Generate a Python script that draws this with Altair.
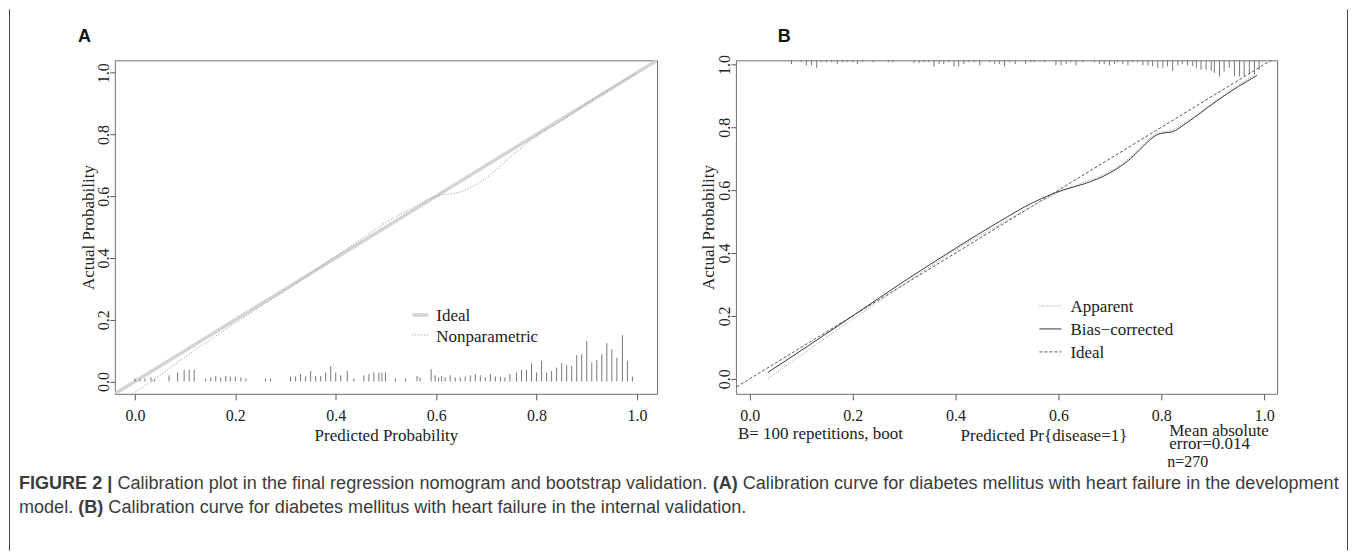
import altair as alt
import pandas as pd

SERIF = "Liberation Serif"
SANS = "Liberation Sans"

TICKS = [0.0, 0.2, 0.4, 0.6, 0.8, 1.0]
IDEAL = [-0.1, 1.1]

# ---------------- Panel A data ----------------
A_NP_X = [0.0, 0.05, 0.1, 0.15, 0.2, 0.3, 0.4, 0.45, 0.5, 0.55, 0.6, 0.65, 0.7, 0.75, 0.8, 0.85, 0.9, 0.95, 1.0]
A_NP_Y = [-0.035, 0.02, 0.08, 0.135, 0.19, 0.295, 0.405, 0.46, 0.515, 0.56, 0.6, 0.615, 0.66, 0.73, 0.795, 0.845, 0.9, 0.95, 1.0]

A_RUG_X = [0.0, 0.01, 0.02, 0.032, 0.039, 0.068, 0.085, 0.098, 0.108, 0.118,
           0.141, 0.151, 0.161, 0.171, 0.181, 0.19, 0.2, 0.211, 0.221, 0.26, 0.27,
           0.31, 0.32, 0.33, 0.34, 0.35, 0.36, 0.37, 0.38, 0.39, 0.4, 0.41, 0.423, 0.436,
           0.456, 0.466, 0.476, 0.486, 0.492, 0.499, 0.519, 0.539, 0.562, 0.568,
           0.59, 0.598, 0.605, 0.611, 0.618, 0.628, 0.638, 0.648, 0.658, 0.668, 0.678,
           0.688, 0.698, 0.708, 0.718, 0.728, 0.737, 0.747, 0.76, 0.77, 0.78, 0.79,
           0.8, 0.81, 0.82, 0.83, 0.84, 0.85, 0.86, 0.87, 0.88, 0.89, 0.9, 0.91, 0.92,
           0.93, 0.94, 0.95, 0.96, 0.971, 0.981, 0.991]
A_RUG_H = [0.01, 0.0075, 0.01, 0.013, 0.0075, 0.02, 0.029, 0.038, 0.038, 0.038,
           0.01, 0.013, 0.018, 0.013, 0.018, 0.016, 0.016, 0.013, 0.01, 0.01, 0.01,
           0.016, 0.016, 0.024, 0.016, 0.034, 0.018, 0.018, 0.029, 0.05, 0.029, 0.02, 0.034, 0.01,
           0.02, 0.024, 0.029, 0.029, 0.029, 0.029, 0.01, 0.01, 0.018, 0.013,
           0.04, 0.02, 0.013, 0.018, 0.013, 0.02, 0.013, 0.013, 0.016, 0.02, 0.024,
           0.02, 0.013, 0.024, 0.016, 0.016, 0.013, 0.024, 0.029, 0.038, 0.038, 0.059,
           0.029, 0.067, 0.029, 0.034, 0.045, 0.059, 0.053, 0.05, 0.085, 0.088, 0.131, 0.061, 0.07,
           0.088, 0.124, 0.104, 0.077, 0.15, 0.067, 0.016]

# ---------------- Panel B data ----------------
B_APP_X = [0.035, 0.1, 0.2, 0.3, 0.4, 0.485, 0.55, 0.608, 0.65, 0.7, 0.74, 0.765, 0.79, 0.82, 0.85, 0.907, 0.95, 0.986]
B_APP_Y = [0.0, 0.075, 0.19, 0.3, 0.41, 0.49, 0.55, 0.598, 0.625, 0.66, 0.705, 0.745, 0.78, 0.79, 0.82, 0.885, 0.935, 0.97]
B_BC_X = [0.035, 0.1, 0.2, 0.3, 0.4, 0.485, 0.55, 0.608, 0.65, 0.7, 0.74, 0.765, 0.79, 0.805, 0.82, 0.85, 0.907, 0.95, 0.986]
B_BC_Y = [0.02, 0.09, 0.2, 0.31, 0.415, 0.5, 0.56, 0.6, 0.62, 0.655, 0.7, 0.74, 0.775, 0.782, 0.785, 0.815, 0.883, 0.93, 0.965]

B_RUG_X = [0.081, 0.1, 0.11, 0.12, 0.13, 0.139, 0.149, 0.159, 0.17, 0.18, 0.189, 0.2, 0.209, 0.219,
           0.24, 0.269, 0.278, 0.319, 0.329, 0.339, 0.348, 0.358, 0.368, 0.377, 0.387, 0.397,
           0.406, 0.416, 0.426, 0.436, 0.447, 0.466, 0.476, 0.485, 0.495, 0.505, 0.516, 0.536,
           0.546, 0.553, 0.573, 0.595, 0.605, 0.615, 0.624, 0.634, 0.647, 0.67, 0.68, 0.689,
           0.699, 0.709, 0.715, 0.725, 0.735, 0.744, 0.754, 0.764, 0.774, 0.783, 0.793, 0.803,
           0.812, 0.822, 0.832, 0.841, 0.851, 0.861, 0.868, 0.877, 0.887, 0.897, 0.903, 0.913,
           0.922, 0.932, 0.942, 0.952, 0.961, 0.971, 0.981, 0.99]
B_RUG_L = [0.012, 0.006, 0.016, 0.016, 0.024, 0.006, 0.006, 0.006, 0.012, 0.006, 0.006, 0.006, 0.012, 0.006,
           0.006, 0.006, 0.006, 0.009, 0.009, 0.006, 0.006, 0.021, 0.012, 0.012, 0.006, 0.019,
           0.019, 0.012, 0.006, 0.006, 0.016, 0.006, 0.012, 0.012, 0.019, 0.006, 0.012, 0.012,
           0.006, 0.006, 0.006, 0.016, 0.016, 0.012, 0.006, 0.016, 0.006, 0.006, 0.012, 0.012,
           0.016, 0.012, 0.006, 0.012, 0.016, 0.006, 0.006, 0.016, 0.016, 0.019, 0.024, 0.024,
           0.019, 0.033, 0.016, 0.012, 0.016, 0.019, 0.024, 0.03, 0.03, 0.033, 0.04, 0.051,
           0.035, 0.024, 0.051, 0.051, 0.051, 0.045, 0.045, 0.03]

# ---------------- Caption ----------------
CAP_LINE1 = [("FIGURE 2 |", True),
             ("Calibration plot in the final regression nomogram and bootstrap validation.", False),
             ("(A)", True),
             ("Calibration curve for diabetes mellitus with heart failure in the development", False)]
CAP_LINE2 = [("model.", False),
             ("(B)", True),
             ("Calibration curve for diabetes mellitus with heart failure in the internal validation.", False)]

W, H = 543, 334
A_XDOM = [-0.04, 1.04]
A_YDOM = [-0.04, 1.04]
B_XDOM = [-0.027, 1.025]
B_YDOM = [-0.048, 1.013]

TXT = "#222222"
AXC = "#555555"
CAPC = "#3c3c3c"

# approximate Arial / Liberation Sans advance widths (per 1000 em) for laying out caption pieces
_REG = {" ": 278, "a": 556, "b": 556, "c": 500, "d": 556, "e": 556, "f": 278, "g": 556, "h": 556,
        "i": 222, "j": 222, "k": 500, "l": 222, "m": 833, "n": 556, "o": 556, "p": 556, "q": 556,
        "r": 333, "s": 500, "t": 278, "u": 556, "v": 500, "w": 722, "x": 500, "y": 500, "z": 500,
        ".": 278, "(": 333, ")": 333, "C": 722, "A": 667, "B": 667, "|": 260}
_BOLD = {" ": 278, "F": 611, "I": 278, "G": 778, "U": 722, "R": 722, "E": 667, "2": 556,
         "|": 280, "(": 333, ")": 333, "A": 722, "B": 722}


def em_width(s, bold):
    t = _BOLD if bold else _REG
    return sum(t.get(c, 556) for c in s) / 1000.0


line1_em = sum(em_width(s, b) for s, b in CAP_LINE1) + 0.278 * (len(CAP_LINE1) - 1)
CAP_SIZE = round(1322 / line1_em, 2)


def xaxis(title, title_x):
    return alt.Axis(values=TICKS, format=".1f", title=title, grid=False, domain=False,
                    tickSize=6, tickColor=AXC, tickWidth=1, labelFont=SERIF, labelFontSize=16,
                    labelColor=TXT, labelPadding=8, labelBaseline="top", labelFlush=False,
                    labelOverlap=False, titleFont=SERIF, titleFontSize=17, titleFontWeight="normal",
                    titleColor=TXT, titleX=title_x, titleY=42, titleBaseline="middle", titleAlign="center")


def yaxis(title_x):
    return alt.Axis(values=TICKS, format=".1f", title="Actual Probability", grid=False, domain=False,
                    tickSize=5, tickColor=AXC, tickWidth=1, labelFont=SERIF, labelFontSize=16,
                    labelColor=TXT, labelAngle=270, labelAlign="center", labelBaseline="alphabetic",
                    labelPadding=1, labelFlush=False, labelOverlap=False, titleFont=SERIF,
                    titleFontSize=17, titleFontWeight="normal", titleColor=TXT, titleAngle=270,
                    titleX=title_x, titleY=H / 2, titleBaseline="middle", titleAlign="center")


def txt(s, x, y, size=17, font=SERIF, weight="normal", align="left", color=TXT, baseline="middle"):
    return alt.Chart(pd.DataFrame({"t": [s]})).mark_text(
        align=align, baseline=baseline, font=font, fontSize=size, fontWeight=weight, color=color
    ).encode(x=alt.value(x), y=alt.value(y), text="t:N")


def seg(x1, x2, y, color, width=1, dash=None):
    kw = dict(color=color, strokeWidth=width)
    if dash:
        kw["strokeDash"] = dash
    return alt.Chart(pd.DataFrame({"a": [0]})).mark_rule(**kw).encode(
        x=alt.value(x1), x2=alt.value(x2), y=alt.value(y))


def vline(x, y1, y2, color="#444444"):
    return alt.Chart(pd.DataFrame({"a": [0]})).mark_rule(color=color, strokeWidth=1).encode(
        x=alt.value(x), y=alt.value(y1), y2=alt.value(y2))


def caption_line(pieces, x0, y):
    layers = []
    x = x0
    for s, b in pieces:
        layers.append(txt(s, round(x, 1), y, size=CAP_SIZE, font=SANS,
                          weight="bold" if b else "normal", color=CAPC))
        x += (em_width(s, b) + 0.278) * CAP_SIZE
    return layers


# ---------------- Panel A ----------------
xsA = alt.Scale(domain=A_XDOM, nice=False, zero=False)
ysA = alt.Scale(domain=A_YDOM, nice=False, zero=False)

ideal_df = pd.DataFrame({"x": IDEAL, "y": IDEAL})
a_ideal = alt.Chart(ideal_df).mark_line(clip=True, color="#d4d4d4", strokeWidth=3.5).encode(
    x=alt.X("x:Q", scale=xsA, axis=xaxis("Predicted Probability", W / 2)),
    y=alt.Y("y:Q", scale=ysA, axis=yaxis(-26)))

a_np = alt.Chart(pd.DataFrame({"x": A_NP_X, "y": A_NP_Y})).mark_line(
    clip=True, color="#8a8a8a", strokeWidth=1, strokeDash=[1, 2], interpolate="monotone").encode(
    x=alt.X("x:Q", scale=xsA), y=alt.Y("y:Q", scale=ysA))

a_rug = alt.Chart(pd.DataFrame({"x": A_RUG_X, "y0": [0.0] * len(A_RUG_X), "h": A_RUG_H})).mark_rule(
    color="#777777", strokeWidth=1).encode(
    x=alt.X("x:Q", scale=xsA), y=alt.Y("y0:Q", scale=ysA), y2="h:Q")

capY1, capY2 = 424, 448
panelA = alt.layer(
    a_ideal, a_np, a_rug,
    seg(298, 314, 255, "#d4d4d4", 3.5), txt("Ideal", 322, 256),
    seg(298, 314, 275, "#8a8a8a", 1, [1, 2]), txt("Nonparametric", 322, 277),
    txt("A", -37, -23, size=18, font=SANS, weight="bold", color="#111111"),
    vline(-105.5, -51, 491),
    *caption_line(CAP_LINE1, -96, capY1),
    *caption_line(CAP_LINE2, -96, capY2),
).properties(width=W, height=H)

# ---------------- Panel B ----------------
xsB = alt.Scale(domain=B_XDOM, nice=False, zero=False)
ysB = alt.Scale(domain=B_YDOM, nice=False, zero=False)

b_ideal = alt.Chart(ideal_df).mark_line(clip=True, color="#555555", strokeWidth=1, strokeDash=[3, 2]).encode(
    x=alt.X("x:Q", scale=xsB, axis=xaxis("Predicted Pr{disease=1}", 308)),
    y=alt.Y("y:Q", scale=ysB, axis=yaxis(-27)))

b_app = alt.Chart(pd.DataFrame({"x": B_APP_X, "y": B_APP_Y})).mark_line(
    clip=True, color="#9a9a9a", strokeWidth=1, strokeDash=[1, 1.5], interpolate="monotone").encode(
    x=alt.X("x:Q", scale=xsB), y=alt.Y("y:Q", scale=ysB))

b_bc = alt.Chart(pd.DataFrame({"x": B_BC_X, "y": B_BC_Y})).mark_line(
    clip=True, color="#3a3a3a", strokeWidth=1, interpolate="monotone").encode(
    x=alt.X("x:Q", scale=xsB), y=alt.Y("y:Q", scale=ysB))

b_rug = alt.Chart(pd.DataFrame({"x": B_RUG_X, "top": [B_YDOM[1]] * len(B_RUG_X),
                                "bot": [B_YDOM[1] - v for v in B_RUG_L]})).mark_rule(
    color="#777777", strokeWidth=1).encode(
    x=alt.X("x:Q", scale=xsB), y=alt.Y("top:Q", scale=ysB), y2="bot:Q")

panelB = alt.layer(
    b_ideal, b_app, b_bc, b_rug,
    seg(304, 326, 246, "#9a9a9a", 1, [1, 1.5]), txt("Apparent", 335, 247),
    seg(304, 326, 269, "#3a3a3a", 1), txt("Bias\u2212corrected", 335, 270),
    seg(304, 326, 292, "#555555", 1, [3, 2]), txt("Ideal", 335, 293),
    txt("B", 42, -23, size=18, font=SANS, weight="bold", color="#111111"),
    txt("B= 100 repetitions, boot", 2, 374),
    txt("Mean absolute", 434, 371),
    txt("error=0.014", 434, 384),
    txt("n=270", 432, 402, size=16),
    vline(612.5, -51, 491),
).properties(width=W - 1, height=H)

chart = alt.hconcat(panelA, panelB, spacing=79, bounds="flush").properties(
    padding=0, background="white"
).configure_view(stroke="#6e6e6e", strokeWidth=1)

chart.save("out.html", embed_options={"renderer": "svg", "actions": False})
